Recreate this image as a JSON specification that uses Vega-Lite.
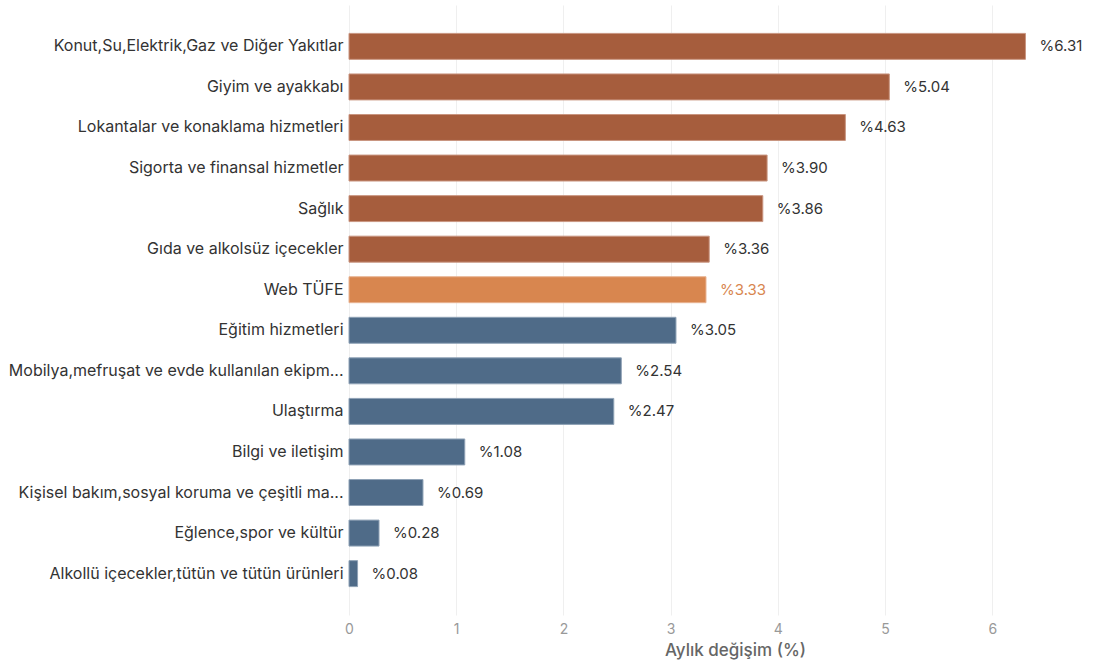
{
  "$schema": "https://vega.github.io/schema/vega-lite/v6.json",
  "autosize": "none",
  "padding": {"left": 349, "top": 5, "right": 0, "bottom": 48},
  "width": 744,
  "height": 610,
  "background": "white",
  "config": {"view": {"stroke": null}, "font": "Inter"},
  "data": {"values": [
    {"kategori": "Konut,Su,Elektrik,Gaz ve Diğer Yakıtlar", "deger": 6.31, "grup": "ust"},
    {"kategori": "Giyim ve ayakkabı", "deger": 5.04, "grup": "ust"},
    {"kategori": "Lokantalar ve konaklama hizmetleri", "deger": 4.63, "grup": "ust"},
    {"kategori": "Sigorta ve finansal hizmetler", "deger": 3.90, "grup": "ust"},
    {"kategori": "Sağlık", "deger": 3.86, "grup": "ust"},
    {"kategori": "Gıda ve alkolsüz içecekler", "deger": 3.36, "grup": "ust"},
    {"kategori": "Web TÜFE", "deger": 3.33, "grup": "tufe"},
    {"kategori": "Eğitim hizmetleri", "deger": 3.05, "grup": "alt"},
    {"kategori": "Mobilya,mefruşat ve evde kullanılan ekipm...", "deger": 2.54, "grup": "alt"},
    {"kategori": "Ulaştırma", "deger": 2.47, "grup": "alt"},
    {"kategori": "Bilgi ve iletişim", "deger": 1.08, "grup": "alt"},
    {"kategori": "Kişisel bakım,sosyal koruma ve çeşitli ma...", "deger": 0.69, "grup": "alt"},
    {"kategori": "Eğlence,spor ve kültür", "deger": 0.28, "grup": "alt"},
    {"kategori": "Alkollü içecekler,tütün ve tütün ürünleri", "deger": 0.08, "grup": "alt"}
  ]},
  "transform": [
    {"calculate": "'%' + format(datum.deger, '.2f')", "as": "etiket"}
  ],
  "encoding": {
    "y": {
      "field": "kategori", "type": "nominal", "sort": null,
      "scale": {"paddingInner": 0.36, "paddingOuter": 0.7},
      "axis": {"title": null, "domain": false, "ticks": false, "labelPadding": 6, "labelFontSize": 16, "labelColor": "#333333", "labelFont": "Inter", "labelLimit": 400}
    },
    "x": {
      "field": "deger", "type": "quantitative",
      "scale": {"domain": [0, 6.94], "nice": false},
      "axis": {
        "title": "Aylık değişim (%)", "values": [0, 1, 2, 3, 4, 5, 6],
        "domain": false, "ticks": false, "grid": true, "gridColor": "#efefef", "gridWidth": 1,
        "labelFlush": false,
        "labelPadding": 7, "labelFontSize": 14, "labelColor": "#999999", "labelFont": "Inter",
        "titleFontSize": 17, "titleColor": "#666666", "titleFont": "Inter", "titleFontWeight": 500,
        "titleX": 386, "titleY": 27, "titleAlign": "center", "titleBaseline": "top"
      }
    }
  },
  "layer": [
    {
      "mark": {"type": "bar", "strokeWidth": 1},
      "encoding": {
        "color": {"field": "grup", "type": "nominal", "legend": null,
          "scale": {"domain": ["ust", "tufe", "alt"], "range": ["#A65D3D", "#D8864F", "#4F6B88"]}},
        "stroke": {"field": "grup", "type": "nominal", "legend": null,
          "scale": {"domain": ["ust", "tufe", "alt"], "range": ["#C99580", "#E8B392", "#8FA2B6"]}}
      }
    },
    {
      "mark": {"type": "text", "align": "left", "baseline": "middle", "dx": 14, "fontSize": 15, "font": "Inter"},
      "encoding": {
        "text": {"field": "etiket", "type": "nominal"},
        "color": {"field": "grup", "type": "nominal", "legend": null,
          "scale": {"domain": ["ust", "tufe", "alt"], "range": ["#333333", "#D8864F", "#333333"]}},
        "fontWeight": {"field": "grup", "type": "nominal", "legend": null,
          "scale": {"domain": ["ust", "tufe", "alt"], "range": [400, 600, 400]}}
      }
    }
  ],
  "resolve": {"scale": {"color": "independent"}}
}
